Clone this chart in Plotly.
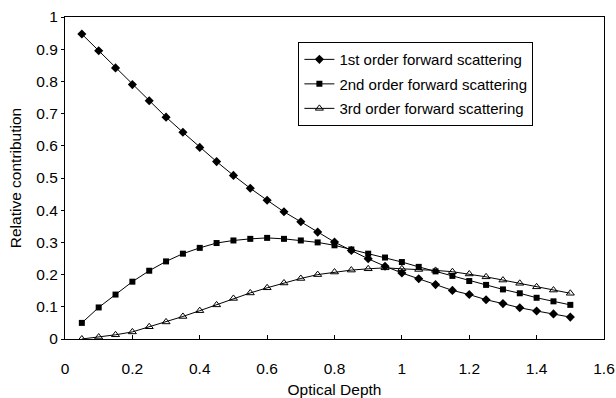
import plotly.graph_objects as go

depth = [0.05, 0.10, 0.15, 0.20, 0.25, 0.30, 0.35, 0.40, 0.45, 0.50,
         0.55, 0.60, 0.65, 0.70, 0.75, 0.80, 0.85, 0.90, 0.95, 1.00,
         1.05, 1.10, 1.15, 1.20, 1.25, 1.30, 1.35, 1.40, 1.45, 1.50]

first_order = [0.947, 0.895, 0.842, 0.790, 0.740, 0.689, 0.642, 0.595, 0.551, 0.508,
               0.468, 0.431, 0.395, 0.364, 0.332, 0.301, 0.275, 0.249, 0.226, 0.205,
               0.187, 0.169, 0.151, 0.138, 0.122, 0.110, 0.097, 0.087, 0.078, 0.068]

second_order = [0.050, 0.098, 0.138, 0.178, 0.212, 0.241, 0.265, 0.283, 0.298, 0.306,
                0.311, 0.314, 0.311, 0.306, 0.300, 0.291, 0.278, 0.265, 0.253, 0.239,
                0.224, 0.210, 0.196, 0.180, 0.168, 0.154, 0.142, 0.128, 0.117, 0.106]

third_order = [0.000, 0.006, 0.013, 0.022, 0.038, 0.053, 0.070, 0.088, 0.106, 0.126,
               0.143, 0.159, 0.174, 0.188, 0.200, 0.208, 0.214, 0.218, 0.221, 0.218,
               0.216, 0.213, 0.209, 0.202, 0.193, 0.183, 0.173, 0.162, 0.152, 0.142]

series_names = ["1st order forward scattering",
                "2nd order forward scattering",
                "3rd order forward scattering"]

x_ticks = [0, 0.2, 0.4, 0.6, 0.8, 1.0, 1.2, 1.4, 1.6]
x_tick_labels = ["0", "0.2", "0.4", "0.6", "0.8", "1", "1.2", "1.4", "1.6"]
y_ticks = [0, 0.1, 0.2, 0.3, 0.4, 0.5, 0.6, 0.7, 0.8, 0.9, 1.0]
y_tick_labels = ["0", "0.1", "0.2", "0.3", "0.4", "0.5", "0.6", "0.7", "0.8", "0.9", "1"]

FONT = "Liberation Sans, Arial, sans-serif"

fig = go.Figure()
styles = [
    dict(symbol="diamond", size=7, color="black"),
    dict(symbol="square", size=6, color="black"),
    dict(symbol="triangle-up-open", size=7, color="black", line=dict(width=1, color="black")),
]
for i, (name, ys) in enumerate(zip(series_names, [first_order, second_order, third_order])):
    fig.add_trace(go.Scatter(
        x=depth, y=ys, name=name, mode="lines+markers",
        line=dict(color="black", width=1),
        marker=styles[i],
        legendgroup=f"g{i}",
    ))

fig.update_layout(
    width=616, height=398,
    margin=dict(l=65, r=12, t=17, b=59),
    paper_bgcolor="white", plot_bgcolor="white",
    font=dict(family=FONT, size=15, color="black"),
    showlegend=True,
    legend=dict(
        x=0.433, y=0.922, xanchor="left", yanchor="top",
        bordercolor="black", borderwidth=1, bgcolor="white",
        font=dict(family=FONT, size=15, color="black"),
        traceorder="grouped", tracegroupgap=2,
        itemwidth=30,
    ),
    xaxis=dict(
        range=[0, 1.6], tickvals=x_ticks, ticktext=x_tick_labels,
        showline=True, linecolor="black", linewidth=1, mirror=True,
        showgrid=False, zeroline=False, automargin=False,
        ticks="inside", ticklen=4, tickcolor="black",
        tickfont=dict(size=15.5), ticklabelstandoff=15,
        title=dict(text="Optical Depth", font=dict(size=15.5), standoff=9),
    ),
    yaxis=dict(
        range=[0, 1], tickvals=y_ticks, ticktext=y_tick_labels,
        showline=True, linecolor="black", linewidth=1, mirror=True,
        showgrid=False, zeroline=False, automargin=False,
        ticks="outside", ticklen=3, tickcolor="black",
        tickfont=dict(size=15.5),
        title=dict(text="Relative contribution", font=dict(size=15.5), standoff=10),
    ),
)

fig.write_html("out.html")
